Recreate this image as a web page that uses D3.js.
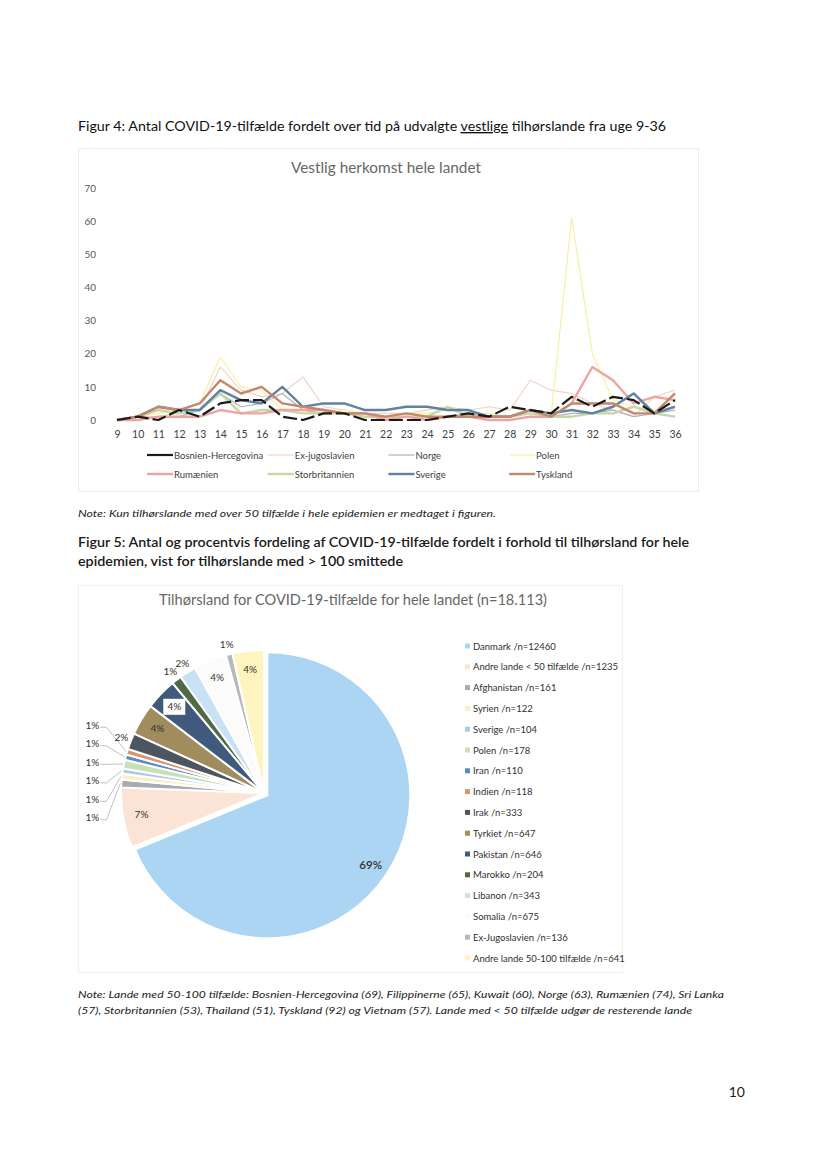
<!DOCTYPE html>
<html><head><meta charset="utf-8">
<script src="https://cdn.jsdelivr.net/npm/d3@7"></script>
<style>body{margin:0;background:#fff}svg{display:block}</style>
</head><body>
<svg id="page" width="827" height="1169"></svg>
<script>
// ---------- DATA ----------
const weeks = [9,10,11,12,13,14,15,16,17,18,19,20,21,22,23,24,25,26,27,28,29,30,31,32,33,34,35,36];
const seriesNames = ["Bosnien-Hercegovina","Ex-jugoslavien","Norge","Polen","Rumænien","Storbritannien","Sverige","Tyskland"];
const bosnien   = [0,1,0,3,1,5,6,6,1,0,2,2,0,0,0,0,1,2,1,4,3,2,7,4,7,6,2,6];
const exjug     = [0,1,1,2,3,16,9,7,8,13,4,3,2,2,2,3,4,3,4,3,12,9,8,5,3,1,7,9];
const norge     = [0,0,1,1,3,8,4,5,8,3,2,2,1,1,1,1,1,2,1,1,3,1,2,2,3,1,2,3];
const polen     = [0,1,2,3,5,19,10,9,3,2,2,3,2,1,2,2,3,2,2,1,2,1,61,20,6,4,3,4];
const rumaenien = [0,0,1,1,1,3,2,2,3,3,3,2,2,0,1,0,1,1,0,0,1,1,5,16,12,5,7,6];
const storbrit  = [0,1,3,2,3,8,2,3,3,2,2,2,1,1,1,1,4,1,1,1,2,1,1,2,2,4,2,1];
const sverige   = [0,1,4,3,3,9,6,5,10,4,5,5,3,3,4,4,3,3,1,1,3,2,3,2,4,8,2,4];
const tyskland  = [0,1,4,3,5,12,8,10,5,4,3,2,2,1,2,1,1,1,1,1,3,1,5,5,5,2,2,8];
const yTicks = [0,10,20,30,40,50,60,70];

const pieCategories = ["Danmark","Andre lande < 50 tilfælde","Afghanistan","Syrien","Sverige","Polen","Iran","Indien","Irak","Tyrkiet","Pakistan","Marokko","Libanon","Somalia","Ex-Jugoslavien","Andre lande 50-100 tilfælde"];
const pieValues = [12460,1235,161,122,104,178,110,118,333,647,646,204,343,675,136,641];
const pieTotalLabel = "18.113";

// ---------- STYLES ----------
const lineColors = ["#1a1a1a","#f3d4c6","#b2b2b2","#f6f0a4","#f0a3a0","#c6d7a6","#5f82a3","#c4866c"];
const lineWidths = [2.2,1.2,1.2,1.2,2.4,2.4,2.4,2.4];
const pieColors = ["#abd5f2","#fbe3d5","#a8acb2","#fbefc0","#a9cbe9","#c8e0b8","#5b8bc4","#d9956f","#4d5660","#a08c5c","#3f5a7a","#4f6a44","#c9e1f4","#fbfbfb","#b8b8b8","#fff4c0"];
const font = "Lato, 'Open Sans', sans-serif";

const svg = d3.select("#page");

function text(x, y, str, o = {}) {
  const t = svg.append("text").attr("x", x).attr("y", y)
    .attr("font-family", o.family || font)
    .attr("font-size", o.size || 12)
    .attr("fill", o.fill || "#1a1a1a")
    .attr("font-weight", o.weight || 400)
    .attr("font-style", o.style || "normal")
    .attr("text-anchor", o.anchor || "start");
  if (o.len) t.attr("textLength", o.len).attr("lengthAdjust", "spacingAndGlyphs");
  t.text(str);
  return t;
}

// ---------- PAGE TEXT ----------
const h4 = svg.append("text").attr("x", 78).attr("y", 131)
  .attr("font-family", font).attr("font-size", 13.5).attr("font-weight", 400).attr("fill", "#111")
  .attr("textLength", 588).attr("lengthAdjust", "spacingAndGlyphs");
h4.append("tspan").text("Figur 4: Antal COVID-19-tilfælde fordelt over tid på udvalgte ");
h4.append("tspan").style("text-decoration", "underline").text("vestlige");
h4.append("tspan").text(" tilhørslande fra uge 9-36");

text(78, 517, "Note: Kun tilhørslande med over 50 tilfælde i hele epidemien er medtaget i figuren.", {size: 10, style: "italic", len: 418, fill: "#222"});
text(78, 547, "Figur 5: Antal og procentvis fordeling af COVID-19-tilfælde fordelt i forhold til tilhørsland for hele", {size: 13.5, weight: 600, len: 611});
text(78, 566, "epidemien, vist for tilhørslande med > 100 smittede", {size: 13.5, weight: 600, len: 325});
text(78, 998, "Note: Lande med 50-100 tilfælde: Bosnien-Hercegovina (69), Filippinerne (65), Kuwait (60), Norge (63), Rumænien (74), Sri Lanka", {size: 10, style: "italic", len: 646, fill: "#222"});
text(78, 1014, "(57), Storbritannien (53), Thailand (51), Tyskland (92) og Vietnam (57). Lande med < 50 tilfælde udgør de resterende lande", {size: 10, style: "italic", len: 614, fill: "#222"});
text(745, 1097, "10", {size: 14, anchor: "end"});

// ---------- LINE CHART ----------
svg.append("rect").attr("x", 78.5).attr("y", 148.5).attr("width", 620).attr("height", 343)
  .attr("fill", "none").attr("stroke", "#ececec");
text(386, 173, "Vestlig herkomst hele landet", {size: 14.5, fill: "#666", anchor: "middle", len: 190});

const x = d3.scalePoint().domain(weeks).range([117, 675]);
const y = d3.scaleLinear().domain([0, 70]).range([420, 188]);

const yAxis = svg.append("g").attr("transform", "translate(96,0)")
  .call(d3.axisLeft(y).tickValues(yTicks).tickSize(0).tickPadding(0));
yAxis.select(".domain").remove();
yAxis.selectAll("text").attr("font-family", font).attr("font-size", 10).attr("fill", "#595959");

const xAxis = svg.append("g").attr("transform", "translate(0,427)")
  .call(d3.axisBottom(x).tickSize(0).tickPadding(4));
xAxis.select(".domain").remove();
xAxis.selectAll("text").attr("font-family", font).attr("font-size", 10.5).attr("fill", "#404040");

const allSeries = [bosnien, exjug, norge, polen, rumaenien, storbrit, sverige, tyskland];
const line = d3.line().x((d, i) => x(weeks[i])).y(d => y(d));
const drawOrder = [1, 2, 3, 5, 4, 6, 7, 0];
drawOrder.forEach(k => {
  svg.append("path").datum(allSeries[k]).attr("d", line)
    .attr("fill", "none").attr("stroke", lineColors[k]).attr("stroke-width", lineWidths[k])
    .attr("stroke-dasharray", k === 0 ? "14,4" : null)
    .attr("stroke-linejoin", "round");
});

// legend
seriesNames.forEach((name, i) => {
  const col = i % 4, row = Math.floor(i / 4);
  const lx = 147 + col * 120.7, ly = 455 + row * 19;
  svg.append("line").attr("x1", lx).attr("x2", lx + 26).attr("y1", ly).attr("y2", ly)
    .attr("stroke", lineColors[i]).attr("stroke-width", lineWidths[i]);
  text(lx + 27, ly + 3.5, name, {size: 9.5, fill: "#404040"});
});

// ---------- PIE CHART ----------
svg.append("rect").attr("x", 78.5).attr("y", 585.5).attr("width", 544).attr("height", 387)
  .attr("fill", "none").attr("stroke", "#f0f0f0");
text(353, 605, "Tilhørsland for COVID-19-tilfælde for hele landet (n=" + pieTotalLabel + ")", {size: 15, fill: "#666", anchor: "middle", len: 388});

const cx = 264, cy = 793, R = 143;
const total = d3.sum(pieValues);
const pie = d3.pie().sort(null).value(d => d)(pieValues);
const arc = d3.arc().innerRadius(0).outerRadius(R);
const explode = i => i === 0 ? 4 : 0;
const g = svg.append("g").attr("transform", `translate(${cx},${cy})`);

pie.forEach((p, i) => {
  const mid = (p.startAngle + p.endAngle) / 2;
  const off = explode(i);
  g.append("path").attr("d", arc(p))
    .attr("transform", `translate(${Math.sin(mid) * off},${-Math.cos(mid) * off})`)
    .attr("fill", pieColors[i]).attr("stroke", "#fff").attr("stroke-width", 2);
});

// labels
const labels = pie.map((p, i) => {
  const mid = (p.startAngle + p.endAngle) / 2;
  const frac = p.value / total;
  const pct = Math.round(frac * 100) + "%";
  const off = explode(i);
  let r, kind;
  if (frac >= 0.03) { r = 0.87 * R; kind = "in"; }
  else { r = 1.07 * R; kind = "out"; }
  return {i, mid, frac, pct, kind,
    x: Math.sin(mid) * (r + off), y: -Math.cos(mid) * (r + off)};
});
// cluster of tiny slices on the left side -> spread vertically with leader lines
const cluster = labels.filter(l => l.frac < 0.015 && Math.sin(l.mid) < -0.9)
  .sort((a, b) => b.mid - a.mid);
const meanY = d3.mean(cluster, l => l.y) + 6;
cluster.forEach((l, k) => {
  l.kind = "leader";
  l.y = meanY + (k - (cluster.length - 1) / 2) * 18.5;
  l.x = -1.2 * R;
});

labels.forEach(l => {
  if (l.kind === "leader") {
    const ex = Math.sin(l.mid) * (R + 1), ey = -Math.cos(l.mid) * (R + 1);
    g.append("polyline")
      .attr("points", `${l.x + 8},${l.y + 2} ${l.x + 14},${l.y + 2} ${ex},${ey}`)
      .attr("fill", "none").attr("stroke", "#a6a6a6").attr("stroke-width", 0.7);
  }
  if (pieCategories[l.i] === "Pakistan") {
    g.append("rect").attr("x", l.x - 11).attr("y", l.y - 8).attr("width", 22).attr("height", 16)
      .attr("fill", "#fff");
  }
  g.append("text").attr("x", l.x).attr("y", l.y).attr("dy", "0.35em")
    .attr("text-anchor", "middle").attr("font-family", font)
    .attr("font-size", l.i === 0 ? 11.5 : 10)
    .attr("font-weight", l.i === 0 ? 600 : 400)
    .attr("fill", "#303030").text(l.pct);
});

// pie legend
pieCategories.forEach((name, i) => {
  const ly = 646 + i * 20.8;
  svg.append("rect").attr("x", 465).attr("y", ly - 2.5).attr("width", 5).attr("height", 5)
    .attr("fill", pieColors[i]);
  text(473, ly + 3.5, name + " /n=" + pieValues[i], {size: 9.5, fill: "#303030"});
});
</script>
</body></html>
